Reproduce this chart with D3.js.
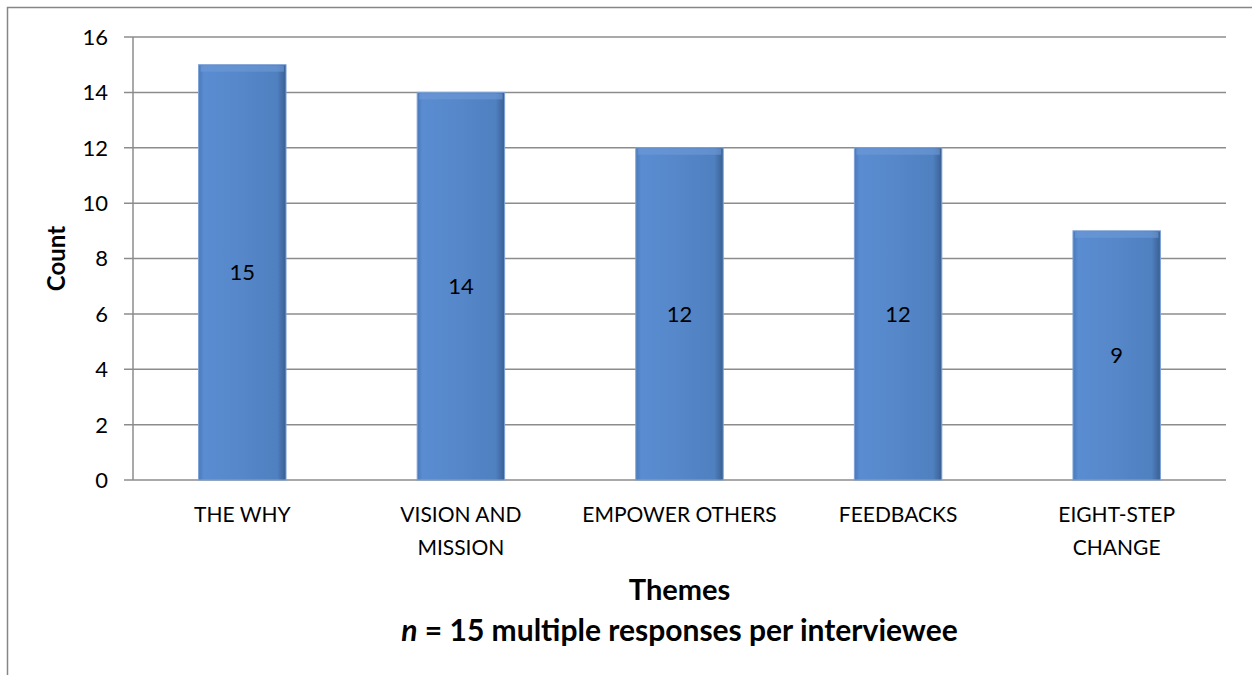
<!DOCTYPE html>
<html>
<head>
<style>
body {margin:0; background:#fff;}
svg {display:block;}
text {font-family: Lato, "Open Sans", sans-serif; fill:#000;}
</style>
</head>
<body>
<div id="chart"></div>
<script src="https://d3js.org/d3.v7.min.js"></script>
<script>
// data
var themes = [["THE WHY"], ["VISION AND", "MISSION"], ["EMPOWER OTHERS"], ["FEEDBACKS"], ["EIGHT-STEP", "CHANGE"]]
var counts = [15, 14, 12, 12, 9]
var yTicks = [0, 2, 4, 6, 8, 10, 12, 14, 16]

var width = 1252,
    height = 675
var margin = {top: 37, right: 26, bottom: 195, left: 133}

var svg = d3.select("#chart").append("svg")
    .attr("width", width)
    .attr("height", height)

// bar gradient to get the bevelled look
var defs = svg.append("defs")
var grad = defs.append("linearGradient").attr("id", "barGrad")
    .attr("x1", 0).attr("x2", 1).attr("y1", 0).attr("y2", 0)
grad.append("stop").attr("offset", "0%").attr("stop-color", "#4a79b9")
grad.append("stop").attr("offset", "6%").attr("stop-color", "#5a8cd2")
grad.append("stop").attr("offset", "50%").attr("stop-color", "#5587c9")
grad.append("stop").attr("offset", "90%").attr("stop-color", "#4f80c0")
grad.append("stop").attr("offset", "100%").attr("stop-color", "#3a5f92")

// outer chart border (only top and left are inside the picture)
svg.append("rect")
    .attr("x", 7.5).attr("y", 7.5)
    .attr("width", width).attr("height", height + 20)
    .attr("fill", "none")
    .attr("stroke", "#868686")
    .attr("stroke-width", 1.5)

var x = d3.scaleBand()
    .domain(d3.range(counts.length))
    .range([margin.left, width - margin.right])
    .paddingInner(0.6)
    .paddingOuter(0.3)

var y = d3.scaleLinear()
    .domain([0, 16])
    .range([height - margin.bottom, margin.top])

// gridlines
svg.append("g")
  .selectAll("line")
  .data(yTicks)
  .enter()
  .append("line")
    .attr("x1", margin.left - 9)
    .attr("x2", width - margin.right)
    .attr("y1", function(d){ return y(d) })
    .attr("y2", function(d){ return y(d) })
    .attr("stroke", "#8c8c8c")
    .attr("stroke-width", 1.5)

// y axis line
svg.append("line")
    .attr("x1", margin.left).attr("x2", margin.left)
    .attr("y1", y(16)).attr("y2", y(0))
    .attr("stroke", "#8c8c8c")
    .attr("stroke-width", 1.5)

// y tick labels
svg.append("g")
  .selectAll("text")
  .data(yTicks)
  .enter()
  .append("text")
    .attr("x", margin.left - 25)
    .attr("y", function(d){ return y(d) })
    .attr("dy", "0.36em")
    .attr("text-anchor", "end")
    .style("font-size", "22px")
    .text(function(d){ return d })

// bars
svg.append("g")
  .selectAll("rect")
  .data(counts)
  .enter()
  .append("rect")
    .attr("x", function(d, i){ return x(i) })
    .attr("y", function(d){ return y(d) })
    .attr("width", x.bandwidth())
    .attr("height", function(d){ return y(0) - y(d) })
    .attr("fill", "url(#barGrad)")
    .attr("stroke", "#7da2d6")
    .attr("stroke-width", 1)

// small top highlight strip on each bar
svg.append("g")
  .selectAll("rect")
  .data(counts)
  .enter()
  .append("rect")
    .attr("x", function(d, i){ return x(i) + 2 })
    .attr("y", function(d){ return y(d) + 1 })
    .attr("width", x.bandwidth() - 4)
    .attr("height", 6)
    .attr("fill", "#6f9ad6")
    .attr("opacity", 0.6)

// value labels in the middle of the bars
svg.append("g")
  .selectAll("text")
  .data(counts)
  .enter()
  .append("text")
    .attr("x", function(d, i){ return x(i) + x.bandwidth() / 2 })
    .attr("y", function(d){ return (y(d) + y(0)) / 2 })
    .attr("dy", "0.36em")
    .attr("text-anchor", "middle")
    .style("font-size", "22px")
    .text(function(d){ return d })

// category labels
var cat = svg.append("g")
  .selectAll("text")
  .data(themes)
  .enter()
  .append("text")
    .attr("x", function(d, i){ return x(i) + x.bandwidth() / 2 })
    .attr("y", y(0) + 42)
    .attr("text-anchor", "middle")
    .style("font-size", "21px")
cat.selectAll("tspan")
  .data(function(d){ return d })
  .enter()
  .append("tspan")
    .attr("x", function(){ return this.parentNode.getAttribute("x") })
    .attr("dy", function(d, i){ return i == 0 ? 0 : 33 })
    .text(function(d){ return d })

// axis titles
var midX = (margin.left + width - margin.right) / 2
svg.append("text")
    .attr("x", midX)
    .attr("y", 600)
    .attr("text-anchor", "middle")
    .style("font-size", "29px")
    .style("font-weight", "bold")
    .text("Themes")

var sub = svg.append("text")
    .attr("x", midX)
    .attr("y", 641)
    .attr("text-anchor", "middle")
    .style("font-size", "30px")
    .style("font-weight", "bold")
sub.append("tspan").style("font-style", "italic").text("n")
sub.append("tspan").text(" = 15 multiple responses per interviewee")

svg.append("text")
    .attr("transform", "translate(65," + (y(8)) + ") rotate(-90)")
    .attr("text-anchor", "middle")
    .style("font-size", "24px")
    .style("font-weight", "bold")
    .text("Count")
</script>
</body>
</html>
